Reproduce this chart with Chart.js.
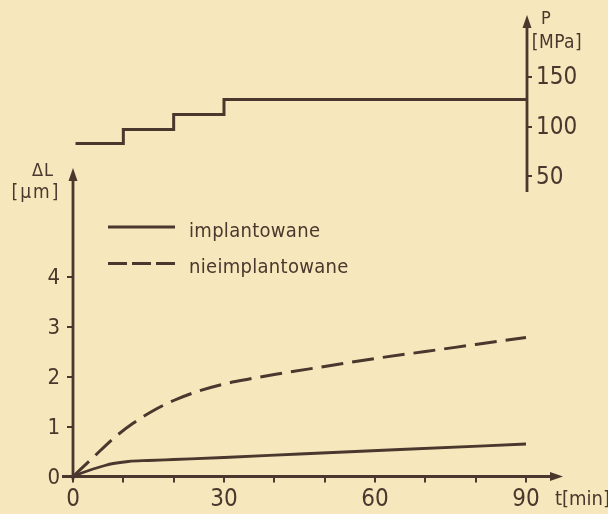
<!DOCTYPE html>
<html><head><meta charset="utf-8">
<script src="https://cdn.jsdelivr.net/npm/chart.js@4.4.0/dist/chart.umd.min.js"></script>
<style>html,body{margin:0;padding:0;background:#f6e8bc;overflow:hidden}canvas{display:block}</style>
</head><body>
<canvas id="c" width="608" height="514"></canvas>
<script>
const INK = '#4a372d';
const BG = '#f6e8bc';
const FONT = '"DejaVu Sans Condensed", "DejaVu Sans", sans-serif';
const NUMFONT = '"Liberation Sans Narrow", "DejaVu Sans Condensed", sans-serif';

// ---- data ----
const seriesNames = ['implantowane', 'nieimplantowane'];
const tImpl  = [0, 2, 4, 6, 8, 11, 15, 20, 30, 45, 65, 90];
const dlImpl = [0, 0.08, 0.15, 0.21, 0.26, 0.30, 0.32, 0.34, 0.38, 0.45, 0.54, 0.65];
const tNie   = [0, 4, 8, 12, 16, 20, 25, 30, 35, 40, 50, 60, 70, 80, 90];
const dlNie  = [0, 0.38, 0.76, 1.07, 1.32, 1.52, 1.71, 1.85, 1.95, 2.04, 2.20, 2.36, 2.50, 2.64, 2.78];
const tP     = [0.5, 10, 20, 30, 90];
const pMPa   = [83, 97, 112, 127, 127];
const xTicks = [0, 10, 20, 30, 40, 50, 60, 70, 80, 90];
const xTickLabels = ['0', '', '', '30', '', '', '60', '', '', '90'];
const yTicks = [0, 1, 2, 3, 4];
const yTickLabels = ['0', '1', '2', '3', '4'];
const pTicks = [50, 100, 150];
const pTickLabels = ['50', '100', '150'];
const xTitle = 't[min]';
const yTitle = ['ΔL', '[µm]'];
const pTitle = ['P', '[MPa]'];

const pts = (xs, ys) => xs.map((x, i) => ({x, y: ys[i]}));

function arrowHead(ctx, x, y, dir) {
  ctx.beginPath();
  if (dir === 'up') { ctx.moveTo(x, y); ctx.lineTo(x - 4.5, y + 13); ctx.lineTo(x + 4.5, y + 13); }
  else { ctx.moveTo(x, y); ctx.lineTo(x - 13, y - 4.5); ctx.lineTo(x - 13, y + 4.5); }
  ctx.closePath(); ctx.fill();
}

const decor = {
  id: 'decor',
  beforeDraw(chart) {
    const ctx = chart.ctx;
    ctx.save(); ctx.fillStyle = BG; ctx.fillRect(0, 0, chart.width, chart.height); ctx.restore();
  },
  beforeDatasetsDraw(chart) {
    const {ctx, scales: {x, y, y2}} = chart;
    ctx.save();
    ctx.strokeStyle = INK; ctx.fillStyle = INK; ctx.lineWidth = 2.8; ctx.lineCap = 'butt';
    const x0 = x.getPixelForValue(0), y0 = y.getPixelForValue(0);
    // x axis with arrow
    ctx.beginPath(); ctx.moveTo(x0 - 11, y0); ctx.lineTo(x.right + 28, y0); ctx.stroke();
    arrowHead(ctx, x.right + 36, y0, 'right');
    // y axis with arrow
    const yTop = y.getPixelForValue(6.17);
    ctx.beginPath(); ctx.moveTo(x0, y0 + 3); ctx.lineTo(x0, yTop + 8); ctx.stroke();
    arrowHead(ctx, x0, yTop, 'up');
    // P axis with arrow
    const px = x.right;
    const pBot = y2.getPixelForValue(34.5), pTop = y2.getPixelForValue(211.5);
    ctx.beginPath(); ctx.moveTo(px, pBot); ctx.lineTo(px, pTop + 8); ctx.stroke();
    arrowHead(ctx, px, pTop, 'up');
    ctx.restore();
  },
  afterDraw(chart) {
    const {ctx} = chart;
    ctx.save();
    ctx.fillStyle = INK; ctx.strokeStyle = INK;
    ctx.textBaseline = 'middle';
    // y title
    ctx.font = '18px ' + FONT; ctx.textAlign = 'center';
    ctx.letterSpacing = '1px';
    ctx.fillText(yTitle[0], 43, 171);
    ctx.font = '19px ' + FONT; ctx.letterSpacing = '2px';
    ctx.fillText(yTitle[1], 36, 193);
    // P title
    ctx.font = '18px ' + FONT; ctx.letterSpacing = '0px';
    ctx.fillText(pTitle[0], 546, 19);
    ctx.font = '19px ' + FONT; ctx.letterSpacing = '0.5px';
    ctx.fillText(pTitle[1], 557, 43);
    // x title
    ctx.textAlign = 'left'; ctx.font = '20px ' + FONT; ctx.letterSpacing = '0px';
    ctx.fillText(xTitle, 555, 500);
    // legend
    const legend = [{y: 227, dash: []}, {y: 263.5, dash: [19, 5]}];
    chart.data.datasets.slice(0, 2).forEach((ds, i) => {
      const L = legend[i];
      ctx.lineWidth = ds.borderWidth; ctx.setLineDash(L.dash);
      ctx.beginPath(); ctx.moveTo(108, L.y); ctx.lineTo(175, L.y); ctx.stroke();
      ctx.setLineDash([]);
      ctx.textBaseline = 'alphabetic'; ctx.font = '20px ' + FONT; ctx.letterSpacing = '0.3px';
      ctx.fillText(ds.label, 189, L.y + 9.5);
    });
    ctx.restore();
  }
};

const zeroPad = s => { s.paddingTop = 0; s.paddingBottom = 0; s.paddingLeft = 0; s.paddingRight = 0; };

new Chart(document.getElementById('c'), {
  type: 'line',
  data: {
    datasets: [
      {label: seriesNames[0], data: pts(tImpl, dlImpl), yAxisID: 'y', borderColor: INK, borderWidth: 2.8,
       pointRadius: 0, cubicInterpolationMode: 'monotone', fill: false},
      {label: seriesNames[1], data: pts(tNie, dlNie), yAxisID: 'y', borderColor: INK, borderWidth: 3,
       borderDash: [22, 9], pointRadius: 0, cubicInterpolationMode: 'monotone', fill: false},
      {label: 'P', data: pts(tP, pMPa), yAxisID: 'y2', borderColor: INK, borderWidth: 3,
       stepped: true, pointRadius: 0, fill: false}
    ]
  },
  options: {
    responsive: false, animation: false, devicePixelRatio: 1,
    layout: {padding: {top: 6.5, left: 0, right: 0, bottom: 0}},
    plugins: {legend: {display: false}, tooltip: {enabled: false}},
    scales: {
      x: {
        type: 'linear', position: 'bottom', min: 0, max: 90.2,
        afterBuildTicks: s => { s.ticks = xTicks.map(v => ({value: v})); },
        afterFit: s => { s.height = 37.5; zeroPad(s); },
        ticks: {autoSkip: false, maxRotation: 0, padding: 3, color: INK, font: {family: NUMFONT, size: 24},
                callback: v => xTickLabels[xTicks.indexOf(v)]},
        grid: {drawOnChartArea: false, drawTicks: true, tickLength: 6, color: INK, lineWidth: 2},
        border: {display: false}
      },
      y: {
        type: 'linear', position: 'left', min: 0, max: 9.4,
        afterBuildTicks: s => { s.ticks = yTicks.map(v => ({value: v})); },
        afterFit: s => { s.width = 73; zeroPad(s); },
        ticks: {padding: 7, labelOffset: 2, color: INK, font: {family: NUMFONT, size: 22},
                callback: v => yTickLabels[yTicks.indexOf(v)]},
        grid: {drawOnChartArea: false, drawTicks: true, tickLength: 6, color: INK, lineWidth: 2},
        border: {display: false}
      },
      y2: {
        type: 'linear', position: 'right', min: -250, max: 220,
        afterBuildTicks: s => { s.ticks = pTicks.map(v => ({value: v})); },
        afterFit: s => { s.width = 81; zeroPad(s); },
        ticks: {padding: 4, labelOffset: 1.5, color: INK, font: {family: NUMFONT, size: 24},
                callback: v => pTickLabels[pTicks.indexOf(v)]},
        grid: {drawOnChartArea: false, drawTicks: true, tickLength: 5, color: INK, lineWidth: 2},
        border: {display: false}
      }
    }
  },
  plugins: [decor]
});
</script>
</body></html>
